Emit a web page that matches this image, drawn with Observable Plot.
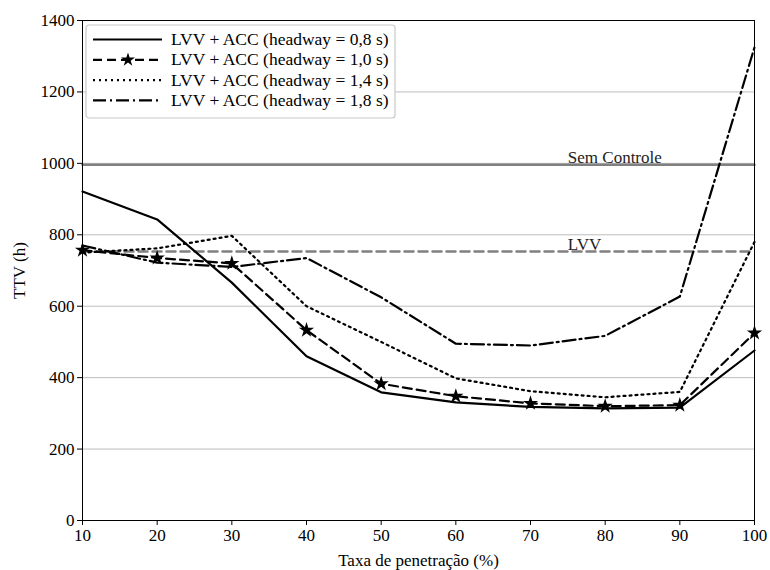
<!DOCTYPE html>
<html><head><meta charset="utf-8">
<script src="https://cdn.jsdelivr.net/npm/d3@7"></script>
<script src="https://cdn.jsdelivr.net/npm/@observablehq/plot@0.6"></script>
<style>body{margin:0;background:#fff}#c{position:relative;width:770px;height:570px}
#c svg, #c svg text{font-family:"Liberation Serif","Times New Roman",serif !important}</style>
</head><body><div id="c"></div>
<script>
const taxa = [10,20,30,40,50,60,70,80,90,100];
const h08 = [921,843,666,460,359,331,318,314,316,476];
const h10 = [757,735,720,533,383,348,328,320,323,525];
const h14 = [750,762,797,600,500,398,362,345,360,780];
const h18 = [770,722,710,735,625,495,490,517,627,1325];
const semControle = 996;
const lvv = 753;
const seriesNames = ["LVV + ACC (headway = 0,8 s)","LVV + ACC (headway = 1,0 s)","LVV + ACC (headway = 1,4 s)","LVV + ACC (headway = 1,8 s)"];
const xTicks = [10,20,30,40,50,60,70,80,90,100];
const yTicks = [0,200,400,600,800,1000,1200,1400];
const gridVals = [200,400,600,800,1000,1200];
const dashes = [null,"9,5","2,4","13,4,2,4"];

const allSeries = [h08,h10,h14,h18];
const data = allSeries.flatMap((s,i)=>s.map((v,j)=>({x:taxa[j],y:v,k:i})));
const ref = [{x:10,y:semControle},{x:100,y:semControle}];
const ref2 = [{x:10,y:lvv},{x:100,y:lvv}];

const chart = Plot.plot({
  width:770,height:570,
  marginLeft:82,marginRight:16,marginTop:20,marginBottom:50,
  style:{fontSize:"17px",color:"#000",background:"#fff"},
  x:{domain:[10,100]},
  y:{domain:[0,1400]},
  marks:[
    Plot.gridY(gridVals,{stroke:"#bdbdbd",strokeOpacity:1,strokeWidth:1}),
    Plot.axisX({ticks:xTicks,tickSize:5,tickPadding:3,tickFormat:d3.format("d"),label:"Taxa de penetração (%)",labelAnchor:"center",labelOffset:45,labelArrow:"none",fontSize:17}),
    Plot.axisY({ticks:yTicks,tickSize:5,tickPadding:3,tickFormat:d3.format("d"),label:"TTV (h)",labelAnchor:"center",labelOffset:70,labelArrow:"none",fontSize:17}),
    Plot.line(ref,{x:"x",y:"y",stroke:"#808080",strokeWidth:2.5}),
    Plot.line(ref2,{x:"x",y:"y",stroke:"#808080",strokeWidth:2.5,strokeDasharray:"9,5"}),
    Plot.text([{x:75,y:semControle,t:"Sem Controle"}],{x:"x",y:"y",text:"t",textAnchor:"start",dy:-7,fontSize:17,fill:"#222"}),
    Plot.text([{x:75,y:lvv,t:"LVV"}],{x:"x",y:"y",text:"t",textAnchor:"start",dy:-7,fontSize:17,fill:"#222"}),
    ...allSeries.map((s,i)=>Plot.line(data.filter(d=>d.k===i),{x:"x",y:"y",stroke:"#000",strokeWidth:2.2,strokeDasharray:dashes[i]||undefined})),
    Plot.dot(data.filter(d=>d.k===1),{x:"x",y:"y",symbol:"star",fill:"#000",stroke:"none",r:4.8}),
    Plot.frame({stroke:"#000",strokeWidth:1})
  ]
});
document.getElementById("c").appendChild(chart);

// legend
const svg = d3.select(chart);
const lg = svg.append("g").attr("transform","translate(86,25)");
lg.append("rect").attr("width",309).attr("height",93).attr("rx",3).attr("fill","#fff").attr("stroke","#c8c8c8").attr("stroke-width",1.2);
seriesNames.forEach((n,i)=>{
  const y = 14.5+i*20.3;
  const l = lg.append("line").attr("x1",7).attr("x2",76).attr("y1",y).attr("y2",y).attr("stroke","#000").attr("stroke-width",2.2);
  if(dashes[i]) l.attr("stroke-dasharray",dashes[i]);
  if(i===1) lg.append("path").attr("d",d3.symbol(d3.symbolStar,60)()).attr("transform",`translate(42,${y})`).attr("fill","#000");
  lg.append("text").attr("x",85).attr("y",y+5.5).text(n).attr("text-anchor","start").style("font-size","17.5px").attr("fill","#000");
});
</script></body></html>
